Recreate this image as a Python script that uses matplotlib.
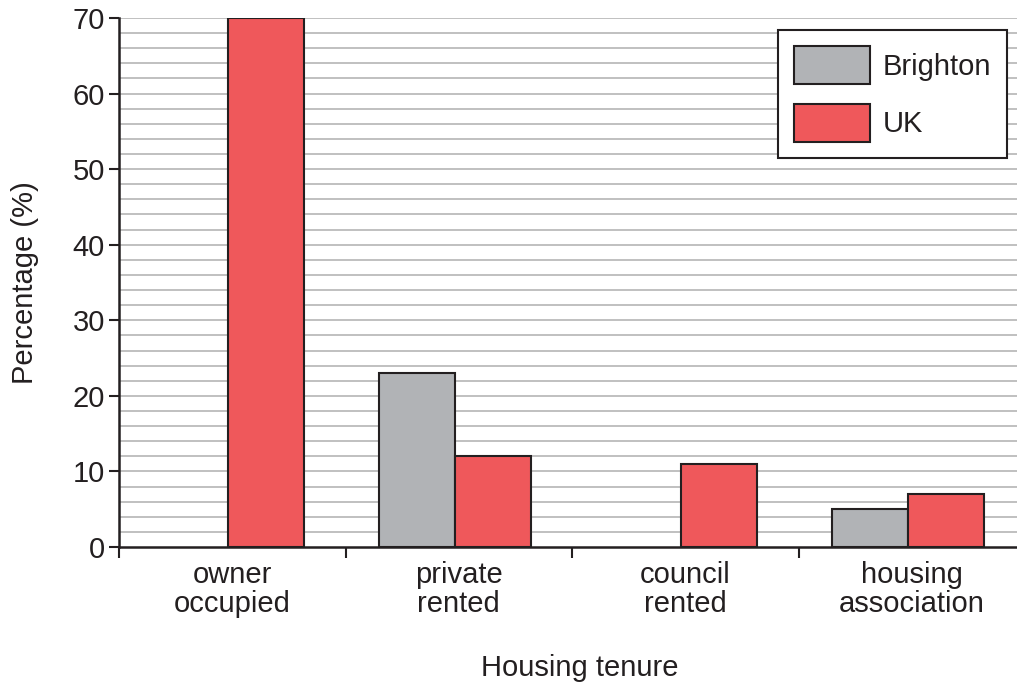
import matplotlib
matplotlib.use("Agg")
import matplotlib.pyplot as plt
from matplotlib.patches import Patch
import numpy as np

categories = ["owner\noccupied", "private\nrented", "council\nrented", "housing\nassociation"]
brighton = [0, 23, 0, 5]
uk = [70, 12, 11, 7]
series_names = ["Brighton", "UK"]

plt.rcParams['font.family'] = ['Liberation Sans', 'DejaVu Sans']
dark = "#231F20"
grey = "#B1B3B6"
red = "#EF585B"

fig = plt.figure(figsize=(10.17, 6.87), dpi=100)
ax = fig.add_axes([119/1017, 140/687, 906/1017, 529/687])

x = np.arange(len(categories))
w = 0.336
off = -0.018
b1 = ax.bar(x + off - w/2, brighton, w, color=grey, edgecolor=dark, linewidth=1.5, zorder=3)
b2 = ax.bar(x + off + w/2, uk, w, color=red, edgecolor=dark, linewidth=1.5, zorder=3)
for rect, v in list(zip(b1, brighton)) + list(zip(b2, uk)):
    if v == 0:
        rect.set_visible(False)

ax.set_xlim(-0.5, 3.5)
ax.set_ylim(0, 70)

for y in np.arange(2, 71, 2):
    ax.axhline(y, color="#B5B5B5", linewidth=1.2, zorder=1)

ax.set_yticks(np.arange(0, 71, 10))
ax.tick_params(axis='y', direction='out', length=7, width=1.5, color=dark, labelsize=21, labelcolor=dark, pad=3)
ax.set_xticks(x)
ax.set_xticklabels(categories, fontsize=21, color=dark, linespacing=1.05)
ax.tick_params(axis='x', length=0, pad=10)
ax.set_xticks(np.arange(-0.5, 3.6, 1), minor=True)
ax.tick_params(axis='x', which='minor', direction='out', length=8, width=1.5, color=dark)

for s in ['top', 'right']:
    ax.spines[s].set_visible(False)
for s in ['left', 'bottom']:
    ax.spines[s].set_color(dark)
    ax.spines[s].set_linewidth(1.8)
    ax.spines[s].set_zorder(4)

ax.set_ylabel("Percentage (%)", fontsize=21, color=dark, labelpad=24)
fig.text(580/1017, 1 - 668/687, "Housing tenure", fontsize=21, color=dark, ha='center', va='center')

fs = 21
px = fs * 100 / 72
handles = [Patch(facecolor=grey, edgecolor=dark, linewidth=1.5),
           Patch(facecolor=red, edgecolor=dark, linewidth=1.5)]
leg = ax.legend(handles, series_names, loc='upper right', bbox_to_anchor=(1007/1017, 1 - 30/687),
                bbox_transform=fig.transFigure,
                borderaxespad=0, fancybox=False, frameon=True, fontsize=fs,
                handlelength=76/px, handleheight=1.62, labelspacing=0.69, borderpad=0.55,
                handletextpad=0.42)
leg.get_frame().set_edgecolor(dark)
leg.get_frame().set_linewidth(1.5)
leg.get_frame().set_alpha(1)
for t in leg.get_texts():
    t.set_color(dark)

fig.savefig("out.png", dpi=100)
